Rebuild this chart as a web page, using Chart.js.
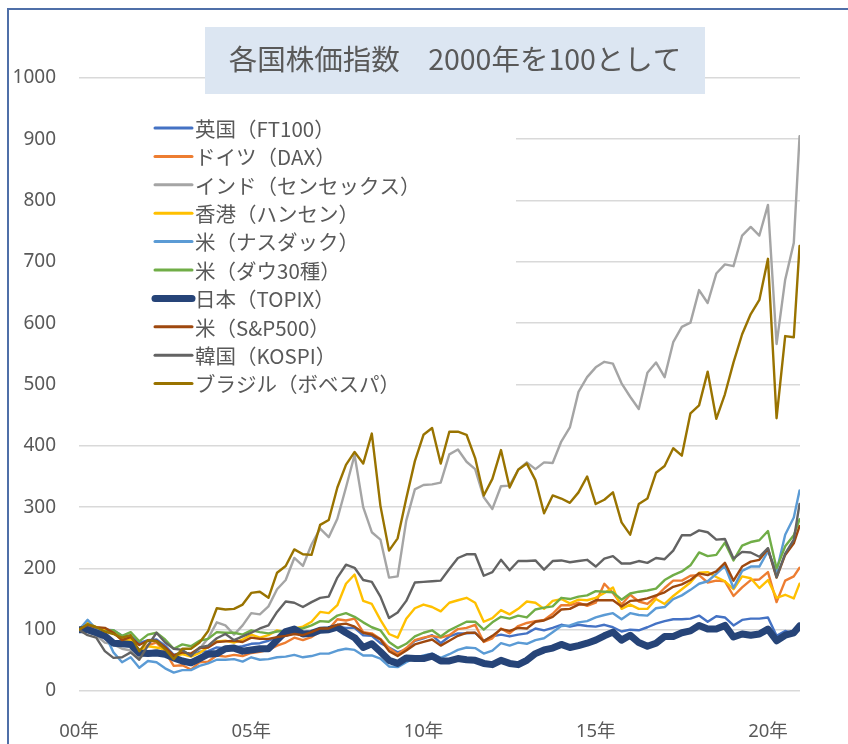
<!DOCTYPE html>
<html>
<head>
<meta charset="utf-8">
<script src="https://cdn.jsdelivr.net/npm/chart.js@4/dist/chart.umd.min.js"></script>
<style>
html,body{margin:0;padding:0;background:#fff;}
#wrap{position:relative;width:848px;height:744px;}
canvas{display:block;}
</style>
</head>
<body>
<div id="wrap"><canvas id="c" width="848" height="744"></canvas></div>
<script>
// ---- data (index, 2000 = 100), quarter-end readings from Jan 2000 to Dec 2020 ----
const titleText = "各国株価指数　2000年を100として";
const xTickYears = [2000, 2005, 2010, 2015, 2020];
const yTicks = [0,100,200,300,400,500,600,700,800,900,1000];

// sample dates (decimal years): Jan 2000, then each quarter end, last = Dec 2020
const sampleDates = [];
for (let i = 0; i < 84; i++) sampleDates.push(2000 + i / 4);
sampleDates.push(2020.917);

const seriesNames = [
  "英国（FT100）","ドイツ（DAX）","インド（センセックス）","香港（ハンセン）",
  "米（ナスダック）","米（ダウ30種）","日本（TOPIX）","米（S&P500）",
  "韓国（KOSPI）","ブラジル（ボベスパ）"
];

const ft100 = [100,
 104,101,100,99, 90,90,78,83, 84,74,59,63, 58,64,65,71, 70,71,73,77,
 78,82,87,90, 95,93,95,99, 101,105,103,103, 91,90,78,71, 63,68,82,86,
 91,78,89,94, 94,95,82,89, 92,89,92,94, 102,99,103,108, 105,108,106,105,
 108,104,97,100, 99,104,110,114, 117,117,118,123, 113,122,120,107, 116,118,118,120,
 90,98,94, 103];

const dax = [100,
 111,101,99,94, 85,89,63,75, 79,64,41,42, 35,47,48,58, 56,59,57,62,
 64,67,74,79, 87,83,88,97, 101,117,115,118, 96,94,85,70, 60,70,83,87,
 90,87,91,101, 103,108,80,86, 102,94,106,111, 114,116,126,140, 140,144,139,144,
 175,160,141,157, 146,142,154,168, 180,180,188,189, 177,180,179,155, 169,181,182,194,
 145,180,187, 201];

const sensex = [100,
 96,91,79,76, 69,66,54,63, 67,62,57,65, 59,69,86,112, 107,92,107,127,
 125,138,166,181, 217,204,239,265, 251,281,332,385, 300,259,247,185, 187,278,329,336,
 337,340,386,394, 374,362,316,297, 334,335,361,373, 362,373,372,407, 430,488,512,528,
 537,534,502,480, 460,519,536,512, 569,594,601,654, 633,681,696,693, 743,757,743,793,
 566,671,731, 905];

const hangseng = [100,
 112,104,101,97, 82,84,64,73, 71,68,58,60, 56,62,72,81, 82,79,84,92,
 87,91,99,96, 102,105,113,129, 127,140,175,190, 147,142,116,93, 87,118,135,141,
 137,130,144,148, 152,144,113,119, 132,125,134,146, 144,134,147,150, 143,149,148,152,
 160,169,134,141, 134,134,150,142, 155,166,177,193, 194,186,179,166, 187,184,168,181,
 152,157,151, 175];

const nasdaq = [100,
 116,101,93,63, 47,55,38,49, 47,37,30,34, 34,41,45,51, 51,52,48,55,
 51,52,55,56, 59,55,57,61, 61,66,69,67, 58,58,53,40, 39,47,54,58,
 61,54,60,67, 71,70,61,66, 78,74,79,77, 83,86,96,106, 107,112,114,120,
 124,127,117,127, 124,123,135,137, 150,156,165,175, 179,191,204,168, 196,203,203,228,
 195,255,283, 327];

const dow = [100,
 100,95,97,99, 90,96,81,92, 95,84,69,76, 73,82,85,96, 95,95,92,99,
 96,94,97,98, 102,102,107,114, 113,123,127,121, 112,104,99,80, 70,77,89,95,
 99,89,99,106, 113,113,100,112, 121,118,123,120, 133,136,138,152, 150,154,156,163,
 162,161,149,159, 162,164,167,181, 189,195,205,226, 220,222,242,213, 237,243,246,261,
 200,236,254, 280];

const topix = [100,
 100,95,90,78, 77,76,62,61, 62,60,54,49, 46,53,60,61, 69,70,65,67,
 69,69,83,97, 101,93,94,99, 100,104,95,87, 71,77,64,50, 45,54,53,53,
 57,49,49,53, 51,50,45,43, 50,45,43,50, 61,67,70,76, 71,74,78,83,
 90,96,83,91, 79,73,78,89, 89,95,98,107, 101,101,107,88, 93,91,93,101,
 82,91,95, 106];

const sp500 = [100,
 108,104,103,95, 83,88,75,82, 82,71,58,63, 61,70,71,80, 81,82,80,87,
 85,85,88,90, 93,91,96,102, 102,108,110,105, 95,92,84,65, 57,66,76,80,
 84,74,82,90, 95,95,81,90, 101,98,103,102, 113,115,121,133, 134,141,141,148,
 148,148,138,147, 148,151,156,161, 170,174,181,192, 189,195,209,180, 203,211,214,232,
 185,222,241, 269];

const kospi = [100,
 91,87,65,54, 55,63,51,74, 95,79,69,67, 57,71,74,86, 93,83,89,95,
 102,107,129,146, 144,137,145,152, 154,185,206,201, 181,178,154,119, 128,147,177,178,
 179,180,199,217, 223,223,188,194, 214,197,212,212, 213,198,212,213, 210,212,214,203,
 216,220,208,208, 212,209,217,215, 229,254,254,262, 259,247,248,216, 227,226,219,233,
 186,224,247, 305];

const bovespa = [100,
 109,104,97,93, 87,91,65,83, 81,68,52,69, 69,79,98,135, 133,134,141,160,
 162,152,193,204, 231,223,222,271, 279,332,369,390, 371,420,302,229, 249,314,375,418,
 429,371,423,423, 418,380,319,346, 393,332,361,371, 344,290,319,314, 307,324,350,305,
 312,324,275,255, 305,314,356,367, 396,384,453,466, 521,444,484,536, 582,615,638,705,
 445,579,577, 726];

const seriesValues = [ft100, dax, sensex, hangseng, nasdaq, dow, topix, sp500, kospi, bovespa];
const seriesColors = ["#4472C4","#ED7D31","#A5A5A5","#FFC000","#5B9BD5","#70AD47","#264478","#9E480E","#636363","#997300"];
const seriesWidths = [2.4,2.4,2.4,2.4,2.4,2.4,7,2.4,2.4,2.4];

// ---- chart ----
const TEXT = "#595959";
const datasets = seriesNames.map((name, i) => ({
  label: name,
  data: seriesValues[i].map((v, k) => ({x: sampleDates[k], y: v})),
  borderColor: seriesColors[i],
  backgroundColor: seriesColors[i],
  borderWidth: seriesWidths[i],
  pointRadius: 0,
  tension: 0,
  fill: false,
  order: seriesNames.length - i,
  borderJoinStyle: 'round',
  borderCapStyle: 'round'
}));

const decor = {
  id: 'decor',
  beforeDatasetsDraw(chart) {
    const ctx = chart.ctx;
    ctx.save();
    // legend panel (covers gridlines)
    ctx.fillStyle = '#ffffff';
    ctx.fillRect(72, 108, 444, 292);
    const x0 = 155, x1 = 192, y0 = 128, dy = 28.4;
    ctx.font = '20.5px "Noto Sans CJK JP", "Noto Sans", sans-serif';
    ctx.textBaseline = 'middle';
    ctx.textAlign = 'left';
    seriesNames.forEach((name, i) => {
      const y = y0 + i * dy;
      ctx.strokeStyle = seriesColors[i];
      ctx.lineWidth = seriesWidths[i] > 3 ? 7 : 3;
      ctx.lineCap = 'round';
      ctx.beginPath(); ctx.moveTo(x0, y); ctx.lineTo(x1, y); ctx.stroke();
      ctx.fillStyle = TEXT;
      ctx.fillText(name, x1 + 3, y + 1);
    });
    ctx.restore();
  },
  afterDraw(chart) {
    const ctx = chart.ctx;
    ctx.save();
    // title box
    ctx.fillStyle = '#DCE6F2';
    ctx.fillRect(205, 27, 500, 67);
    ctx.fillStyle = TEXT;
    ctx.font = '28.5px "Noto Sans CJK JP", sans-serif';
    ctx.textAlign = 'center';
    ctx.textBaseline = 'middle';
    ctx.fillText(titleText, 455, 59);
    // outer frame
    ctx.strokeStyle = '#4F6FA8';
    ctx.lineWidth = 2;
    ctx.strokeRect(8, 9, 900, 800);
    ctx.restore();
  }
};

new Chart(document.getElementById('c'), {
  type: 'line',
  data: { datasets },
  options: {
    responsive: false,
    animation: false,
    layout: { padding: { top: 78, right: 48, left: 0, bottom: 0 } },
    plugins: { legend: { display: false }, tooltip: { enabled: false }, title: { display: false } },
    scales: {
      x: {
        type: 'linear',
        min: 2000,
        max: 2020.93,
        afterFit(s) { s.height = 53; },
        grid: { display: false },
        border: { display: false },
        afterBuildTicks(s) { s.ticks = xTickYears.map(v => ({value: v})); },
        ticks: {
          autoSkip: false, maxRotation: 0, padding: 22,
          color: TEXT,
          font: { size: 18.5, family: '"Noto Sans", "Noto Sans CJK JP", sans-serif' },
          callback: v => String(v % 100).padStart(2, '0') + '年'
        }
      },
      y: {
        min: 0, max: 1000,
        afterFit(s) { s.width = 79; },
        afterBuildTicks(s) { s.ticks = yTicks.map(v => ({value: v})); },
        grid: { color: '#D9D9D9', lineWidth: 1.6, drawTicks: false },
        border: { display: false },
        ticks: {
          padding: 23, color: TEXT,
          font: { size: 19, family: '"Noto Sans", sans-serif' },
          callback: v => String(v)
        }
      }
    }
  },
  plugins: [decor]
});
</script>
</body>
</html>
